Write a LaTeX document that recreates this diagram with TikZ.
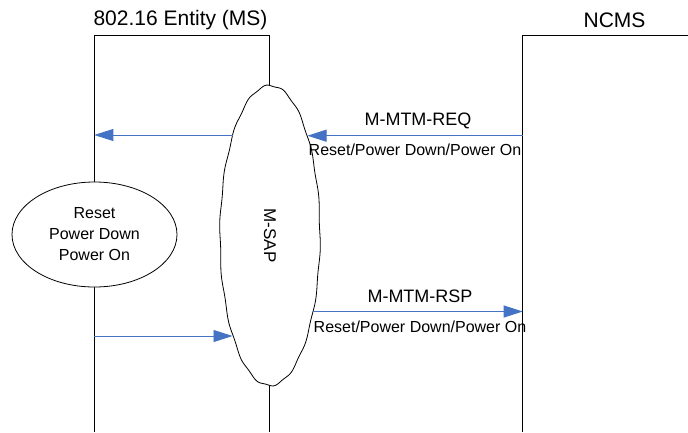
\documentclass[tikz,border=0pt]{standalone}
\usepackage{fontspec}
\setmainfont{Liberation Sans}
\usetikzlibrary{arrows.meta,shapes.geometric}
\definecolor{arrowblue}{RGB}{68,114,196}
\begin{document}
\begin{tikzpicture}[x=1pt,y=-1pt,
  lifeline/.style={draw=black,line width=0.8pt},
  msg/.style={draw=arrowblue,line width=0.9pt,-{Triangle[length=19pt,width=12pt]}},
  title/.style={font=\fontsize{21}{25}\selectfont,inner sep=0pt},
  msglabel/.style={font=\fontsize{18}{21}\selectfont,inner sep=0pt},
  sublabel/.style={font=\fontsize{16}{19}\selectfont,inner sep=0pt},
  state/.style={ellipse,draw=black,line width=0.8pt,fill=white,minimum width=165pt,minimum height=105pt,inner sep=0pt,align=center,font=\fontsize{16}{21}\selectfont}]
\useasboundingbox (0,0) rectangle (688,432);
\fill[white] (0,0) rectangle (688,432);
% titles
\node[title] (mstitle) at (180.5,20) {802.16 Entity (MS)};
\node[title] (ncmstitle) at (614.5,20) {NCMS};
% lifelines
\coordinate (msTL) at (94.3,35.7);
\coordinate (msTR) at (269.3,35.7);
\coordinate (msBL) at (94.3,432);
\coordinate (msBR) at (269.3,432);
\coordinate (ncTL) at (522.7,35.7);
\coordinate (ncTR) at (688,35.7);
\coordinate (ncBL) at (522.7,432);
\draw[lifeline] (msBL) -- (msTL) -- (msTR) -- (msBR);
\draw[lifeline] (ncTR) -- (ncTL) -- (ncBL);
% M-SAP slightly wobbly ellipse
\node[ellipse,minimum width=100pt,minimum height=300pt,inner sep=0pt] (msap) at (270,235.5) {};
\filldraw[draw=black,fill=white,line width=0.8pt]
  plot[domain=0:360,samples=240,smooth,variable=\t]
  ({270+(50+0.5*sin(18*\t))*cos(\t)},{235.5+(150+0.8*sin(18*\t))*sin(\t)}) -- cycle;
\node[rotate=-90,font=\fontsize{17}{20}\selectfont,inner sep=0pt] (msaptext) at (270,235.5) {M-SAP};
% state ellipse
\node[state] (states) at (94.5,234.5) {Reset\\Power Down\\Power On};
% connector points
\coordinate (sapL1) at (232.9,135);
\coordinate (ms1) at (94.3,135);
\coordinate (nc1) at (522.7,135.7);
\coordinate (sapR1) at (307.5,135.7);
\coordinate (sapR2) at (313,311.5);
\coordinate (nc2) at (522.7,311.5);
\coordinate (ms2) at (94.3,336);
\coordinate (sapL2) at (232.5,336);
% messages
\draw[msg] (sapL1) -- (ms1);
\draw[msg] (nc1) -- (sapR1);
\draw[msg] (sapR2) -- (nc2);
\draw[msg] (ms2) -- (sapL2);
% labels
\node[msglabel] (reqlabel) at (418,121) {M-MTM-REQ};
\node[sublabel] (reqsub) at (415,150) {Reset/Power Down/Power On};
\node[msglabel] (rsplabel) at (420,296) {M-MTM-RSP};
\node[sublabel] (rspsub) at (420,327) {Reset/Power Down/Power On};
\end{tikzpicture}
\end{document}
